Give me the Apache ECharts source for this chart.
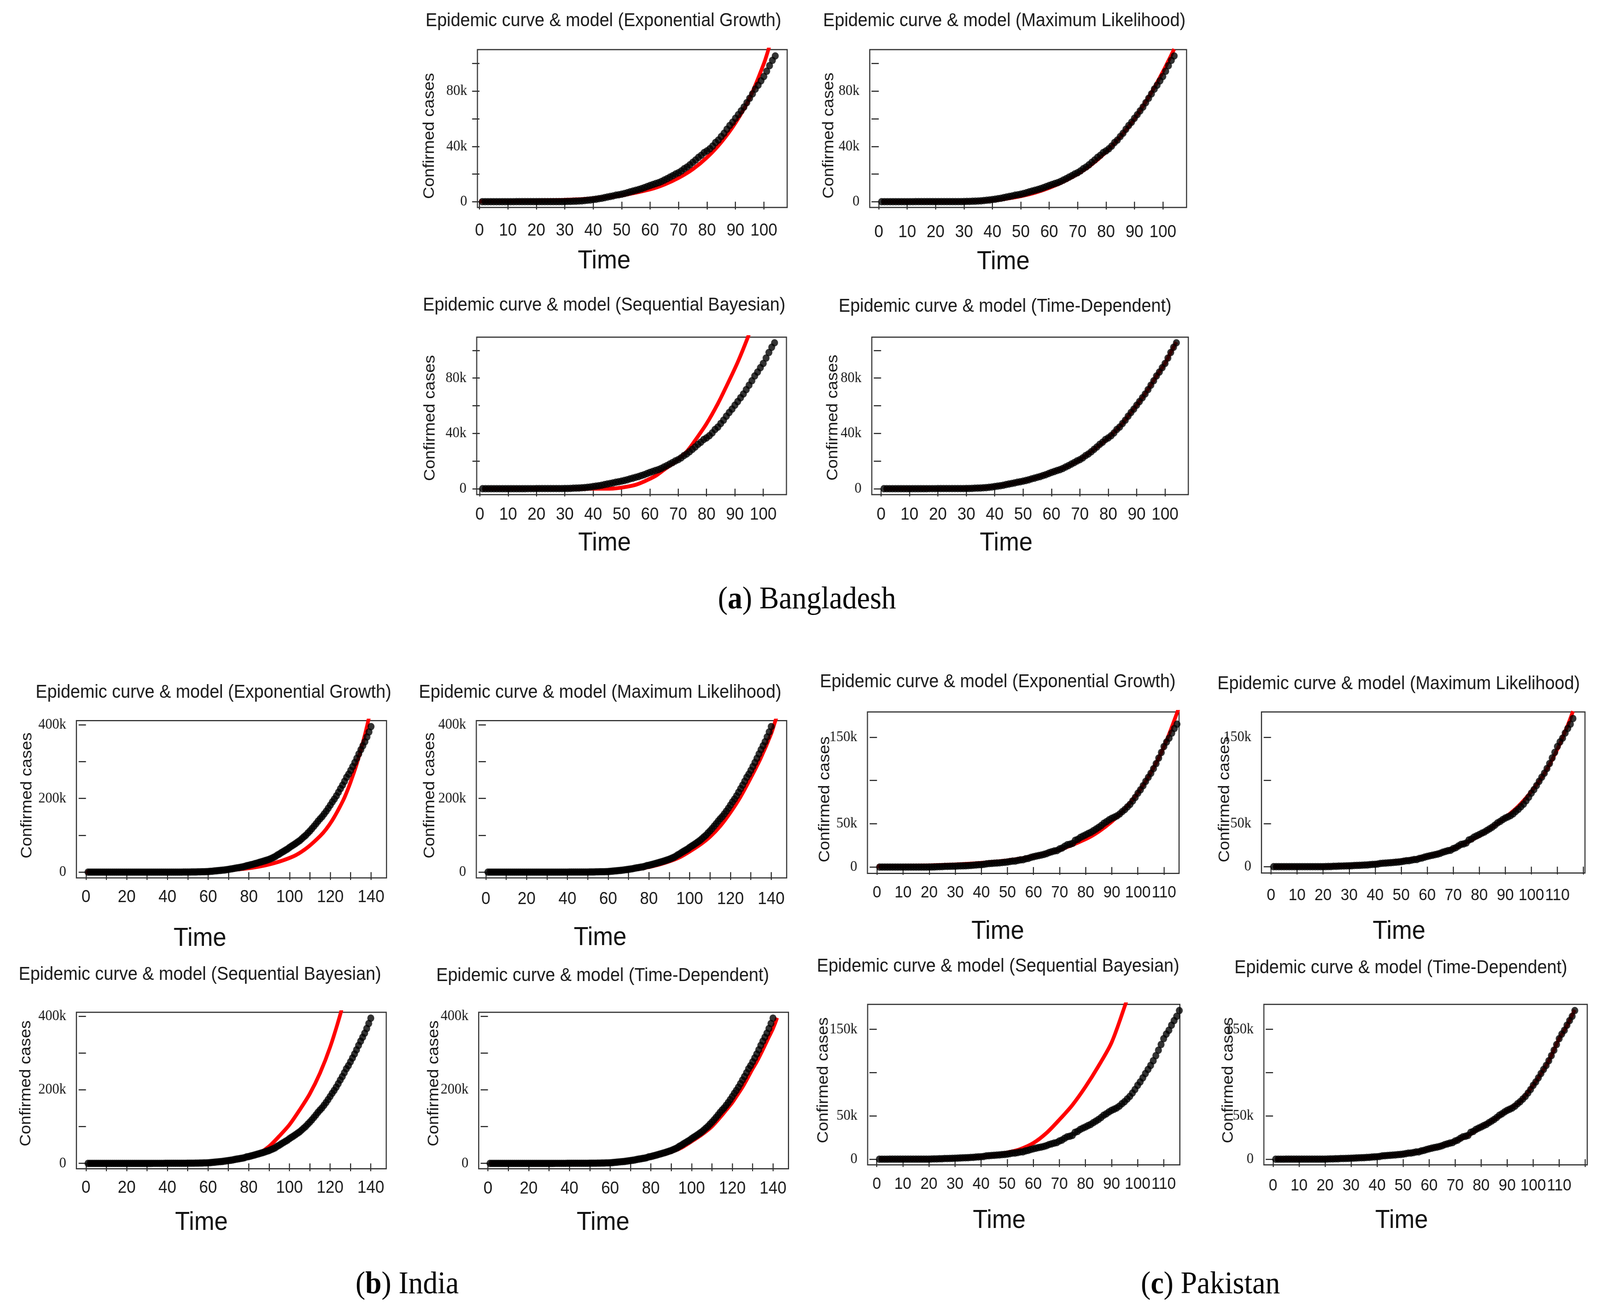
<!DOCTYPE html>
<html>
<head>
<meta charset="utf-8">
<script src="https://cdn.jsdelivr.net/npm/echarts@6/dist/echarts.min.js"></script>
<style>
html,body{margin:0;padding:0;background:#fff;overflow:hidden;}
#wrap{position:relative;overflow:hidden;background:#fff;}
#chart{position:absolute;left:0;top:0;width:4370px;height:3353px;transform-origin:0 0;}
</style>
</head>
<body>
<div id="wrap"><div id="chart"></div></div>
<script>
// ---------------- DATA ----------------
// Cumulative confirmed cases, one value per day (day 1 = first value)
const bangladeshCases = [
3,3,3,3,3,3,3,5,8,10,14,17,20,24,27,33,39,39,44,48,48,48,49,51,
54,56,61,70,88,123,164,218,330,424,482,621,803,1012,1231,1572,1838,2144,2456,2948,3382,3772,4186,4689,4998,5416,5913,6462,7103,7667,
8238,8790,9455,10143,10929,11719,12425,13134,13770,14657,15691,16660,17822,18863,20065,20995,22268,23870,25121,26738,28511,30205,32078,33610,35585,36751,38292,40321,42844,44608,47153,
49534,52445,55140,57563,60391,63026,65769,68504,71675,74865,78052,81523,84379,87520,90619,94481,98489,102292,105535
];
const indiaCases = [
1,1,
1,2,3,3,3,3,3,3,3,3,3,3,3,3,3,3,3,3,3,3,3,3,3,3,3,3,3,
3,5,6,28,30,31,34,39,48,63,71,81,91,102,112,126,146,171,198,256,334,403,497,571,657,730,883,1019,1139,1326,1635,
2059,2545,3105,3684,4289,4778,5311,5916,6725,7598,8446,9205,10453,11487,12322,13430,14352,15722,17615,18539,20080,21370,23077,24530,26283,27890,29451,31324,33062,34863,
37257,39699,42505,46437,49400,52987,56351,59695,62808,67161,70768,74292,78055,81997,85784,90648,95698,100328,106475,112028,118226,124794,131423,138536,144950,150793,158086,165386,173491,181827,190609,
198370,207191,216824,226713,236184,246622,257486,265928,276146,286579,297535,308993,320922,332424,343091,354065,366946,380532,395048
];
const pakistanCases = [
2,2,2,2,4,
4,5,5,5,5,6,6,6,7,16,19,20,28,31,53,136,236,299,454,501,730,776,875,972,1063,1201,1373,1495,1597,1717,1938,
2118,2421,2686,2818,3157,3766,4035,4263,4489,4695,4892,5230,5496,5837,6383,6919,7025,7638,8348,8418,9565,10076,11155,11940,12657,13328,13915,14612,15525,16817,
17699,18570,19103,20941,22049,24073,25837,26435,27474,30941,32081,34336,35788,37218,38799,40151,42125,43966,45898,48091,50694,52437,54601,56349,57705,59151,61227,64028,66457,69496,72460,
76398,80463,85264,89249,93983,98943,103671,108317,113702,119536,125933,132405,139230,144478,148921,154760,160118,165062,171666
];

// Model curves [day, cases]
const bdExpModel = [[0,200],[10,360],[20,670],[30,1250],[40,2300],[50,4600],[60,8900],[65,12400],[70,17200],[75,23500],[80,32000],[85,43000],[90,57000],[95,75000],[100,100000],[102,113000]];
const bdMlModel  = [[1,0],[20,10],[30,100],[35,400],[40,1000],[45,2200],[50,4000],[55,6500],[60,10000],[65,14500],[70,20000],[75,27000],[80,36000],[85,47000],[90,60000],[95,75500],[100,94000],[104,110500]];
const bdSbModel  = [[1,0],[40,0],[47,100],[51,1100],[55,2800],[58,5200],[62,9200],[65,13700],[69,19600],[73,26800],[76,35000],[80,47000],[84,61500],[87,74000],[91,91500],[94.6,109600],[96,118000]];
const bdTdModel  = [[1,0],[20,20],[25,54],[30,123],[35,482],[40,1572],[45,3382],[50,5416],[55,8238],[60,11719],[65,15691],[70,20995],[75,28511],[80,36751],[85,47153],[87,52445],[90,60391],[92,65769],[95,74865],[97,81523],[100,90619],[102,98489],[104,106000]];

const inExpModel = [[0,60],[20,220],[40,800],[50,1400],[60,2700],[66,4100],[70,5400],[79,10000],[85,15000],[91,22500],[97,32500],[103,46000],[109,68000],[115,98000],[118,117000],[121,141000],[124,170000],[127,203000],[130,245000],[133,294000],[136,352000],[139,420000],[141,480000]];
const inMlModel  = [[1,0],[40,200],[50,600],[60,1800],[65,3300],[70,5500],[75,9000],[80,14000],[85,20500],[90,29000],[95,40000],[100,56000],[105,74000],[110,96000],[115,125000],[120,162000],[125,205000],[130,256000],[135,311000],[140,376000],[142,410000],[143,428000]];
const inSbModel  = [[1,0],[40,50],[60,1200],[70,5000],[80,16000],[85,27000],[90,46000],[95,74000],[100,105000],[105,145000],[110,189000],[115,245000],[120,316000],[125,405000],[127,450000]];
const inTdModel  = [[1,1],[40,48],[50,198],[55,571],[60,1139],[65,3105],[70,5916],[75,10453],[80,15722],[85,23077],[90,31324],[95,42505],[100,59695],[105,78055],[110,100328],[115,131423],[117,144950],[120,165386],[122,181827],[125,207191],[127,226713],[130,257486],[132,276146],[135,308993],[137,332424],[140,366946],[141,380532],[142,396000]];

const pkExpModel = [[0,700],[10,1100],[20,1800],[30,2900],[40,4700],[50,7600],[60,12300],[70,20000],[80,32300],[85,41000],[90,52500],[95,67000],[100,85500],[105,109000],[110,139000],[115,178000],[117,197000]];
const pkMlModel  = [[1,0],[20,300],[30,1500],[40,3500],[50,7000],[60,12000],[70,21000],[75,28000],[80,36000],[85,46000],[90,57000],[95,70000],[100,87000],[105,108000],[110,136000],[114,164000],[116,180000]];
const pkSbModel  = [[1,0],[20,100],[30,700],[40,2800],[45,4500],[50,7500],[55,11500],[60,18500],[65,30000],[70,45500],[75,62500],[80,83500],[85,107500],[90,134500],[95,176000],[97,195000]];
const pkTdModel  = [[1,2],[15,16],[20,53],[25,501],[30,1063],[35,1717],[40,2818],[45,4489],[50,5837],[55,8348],[60,11940],[65,15525],[70,20941],[75,27474],[80,37218],[85,45898],[90,56349],[95,66457],[100,85264],[102,93983],[105,108317],[107,119536],[110,139230],[112,148921],[114,160118],[116,172500]];

// Tick values and labels
const bdXTicks = [0,10,20,30,40,50,60,70,80,90,100];
const bdXLabels = [0,10,20,30,40,50,60,70,80,90,100];
const bdYTicks = [0,20000,40000,60000,80000,100000];
const bdYLabels = [0,40000,80000];
const inXTicks = [0,10,20,30,40,50,60,70,80,90,100,110,120,130,140];
const inXLabels = [0,20,40,60,80,100,120,140];
const inYTicks = [0,100000,200000,300000,400000];
const inYLabels = [0,200000,400000];
const pkXTicks = [0,10,20,30,40,50,60,70,80,90,100,110,120];
const pkXLabels = [0,10,20,30,40,50,60,70,80,90,100,110];
const pkYTicks = [0,50000,100000,150000];
const pkYLabels = [0,50000,150000];

const modelNames = ['Exponential Growth','Maximum Likelihood','Sequential Bayesian','Time-Dependent'];
const captions = [['a',' Bangladesh'],['b',' India'],['c',' Pakistan']];

// ---------------- LAYOUT ----------------
const countries = {
  bd: {cases: bangladeshCases, xt: bdXTicks, xl: bdXLabels, yt: bdYTicks, yl: bdYLabels, xFont: 44},
  in: {cases: indiaCases, xt: inXTicks, xl: inXLabels, yt: inYTicks, yl: inYLabels, xFont: 44},
  pk: {cases: pakistanCases, xt: pkXTicks, xl: pkXLabels, yt: pkYTicks, yl: pkYLabels, xFont: 42}
};
const panels = [
  {c:'bd', m:0, model:bdExpModel, box:[1304,127,2150,531], xr:[-0.7,108.2], yr:[-4190,110100], tt:[1648,54], tm:[1650,669], cf:[1173,348], lg:38},
  {c:'bd', m:1, model:bdMlModel,  box:[2375.5,127,3240.7,531], xr:[-3.18,108.35], yr:[-4190,110100], tt:[2743,54], tm:[2740,671], cf:[2264,347], lg:42},
  {c:'bd', m:2, model:bdSbModel,  box:[1302,863,2148,1266], xr:[-1.08,108.2], yr:[-4300,109600], tt:[1650,782], tm:[1651,1391], cf:[1175,1070], lg:30},
  {c:'bd', m:3, model:bdTdModel,  box:[2381,863,3245.6,1266], xr:[-3.29,108.2], yr:[-4300,109600], tt:[2745,785], tm:[2748,1391], cf:[2275,1069], lg:30},
  {c:'in', m:0, model:inExpModel, box:[208.7,1844.6,1055.6,2247.1], xr:[-4.69,147.6], yr:[-15700,411200], tt:[583,1773], tm:[546,2403], cf:[74,2036], lg:28},
  {c:'in', m:1, model:inMlModel,  box:[1301,1844.6,2148.6,2247], xr:[-4.67,147.6], yr:[-15700,411200], tt:[1639,1773], tm:[1639,2401], cf:[1174,2036], lg:33},
  {c:'in', m:2, model:inSbModel,  box:[208.7,2591,1054.9,2991.5], xr:[-4.69,147.6], yr:[-14700,411000], tt:[546,2495], tm:[550,3130], cf:[71,2773], lg:27},
  {c:'in', m:3, model:inTdModel,  box:[1307.4,2591,2153.5,2991.5], xr:[-4.55,147.6], yr:[-14700,411000], tt:[1646,2498], tm:[1647,3130], cf:[1185,2773], lg:29},
  {c:'pk', m:0, model:pkExpModel, box:[2369.2,1822.3,3220.3,2235.4], xr:[-3.66,115.8], yr:[-7300,179200], tt:[2725,1746], tm:[2725,2385], cf:[2253,2046], lg:29},
  {c:'pk', m:1, model:pkMlModel,  box:[3445.4,1822.3,4328.9,2234.5], xr:[-3.67,120.6], yr:[-7300,179200], tt:[3820,1751], tm:[3821,2385], cf:[3345,2046], lg:37},
  {c:'pk', m:2, model:pkSbModel,  box:[2369.7,2570.8,3222.4,2981.5], xr:[-3.5,116.2], yr:[-6600,178800], tt:[2726,2474], tm:[2729,3125], cf:[2249,2765], lg:29},
  {c:'pk', m:3, model:pkTdModel,  box:[3451.9,2570.8,4335.2,2981.5], xr:[-3.53,120.8], yr:[-6600,178800], tt:[3826,2478], tm:[3828,3125], cf:[3355,2765], lg:33}
];

const INK = '#1a1a1a';
const grids = [], xAxes = [], yAxes = [], series = [], graphics = [];
const kfmt = v => v === 0 ? '0' : (v / 1000) + 'k';

panels.forEach((p, i) => {
  const C = countries[p.c];
  const [L, T, R, B] = p.box;
  grids.push({left: L, top: T, width: R - L, height: B - T, show: true, borderColor: '#333', borderWidth: 3, backgroundColor: 'rgba(0,0,0,0)'});
  const inX = v => v >= p.xr[0] && v <= p.xr[1];
  xAxes.push({
    gridIndex: i, type: 'value', min: p.xr[0], max: p.xr[1],
    axisLine: {show: false},
    axisTick: {show: true, length: 20, lineStyle: {color: '#333', width: 3}, customValues: C.xt.filter(inX)},
    axisLabel: {customValues: C.xl.filter(inX), margin: p.lg, fontSize: C.xFont, fontFamily: 'Liberation Sans', color: INK},
    splitLine: {show: false}
  });
  yAxes.push({
    gridIndex: i, type: 'value', min: p.yr[0], max: p.yr[1],
    axisLine: {show: false},
    axisTick: {show: true, length: 20, lineStyle: {color: '#333', width: 3}, customValues: C.yt},
    axisLabel: {customValues: C.yl, formatter: kfmt, margin: 28, fontSize: 38, fontFamily: 'Liberation Serif', color: INK},
    splitLine: {show: false}
  });
  series.push({
    type: 'line', xAxisIndex: i, yAxisIndex: i, data: p.model, smooth: 0.3,
    showSymbol: false, symbol: 'none', clip: true,
    lineStyle: {color: '#ff0000', width: 10}, z: 2, silent: true
  });
  series.push({
    type: 'scatter', xAxisIndex: i, yAxisIndex: i, data: C.cases.map((v, d) => [d + 1, v]),
    symbol: 'circle', symbolSize: 19, itemStyle: {color: '#000'}, clip: true, z: 3, silent: true
  });
  graphics.push({type: 'text', x: p.tt[0], y: p.tt[1], style: {text: 'Epidemic curve & model (' + modelNames[p.m] + ')', fontSize: 47.5, fontFamily: 'Liberation Sans', fill: INK, align: 'center', verticalAlign: 'middle', textAlign: 'center', textVerticalAlign: 'middle'}});
  graphics.push({type: 'text', x: p.tm[0], y: p.tm[1], style: {text: 'Time', fontSize: 66, fontFamily: 'Liberation Sans', fill: '#111', align: 'center', verticalAlign: 'middle', textAlign: 'center', textVerticalAlign: 'middle'}});
  graphics.push({type: 'text', x: p.cf[0], y: p.cf[1], rotation: Math.PI / 2, style: {text: 'Confirmed cases', fontSize: 43, fontFamily: 'Liberation Sans', fill: INK, align: 'center', verticalAlign: 'middle', textAlign: 'center', textVerticalAlign: 'middle'}});
});

const capPos = [[2204,1536],[1112,3289],[3306,3289]];
captions.forEach((c, k) => {
  graphics.push({type: 'text', x: capPos[k][0], y: capPos[k][1], style: {
    text: '{n|(}{b|' + c[0] + '}{n|)' + c[1] + '}',
    rich: {n: {fontSize: 80, fontFamily: 'Liberation Serif', fill: '#000', color: '#000'}, b: {fontSize: 80, fontFamily: 'Liberation Serif', fontWeight: 'bold', fill: '#000', color: '#000'}},
    align: 'center', verticalAlign: 'middle', textAlign: 'center', textVerticalAlign: 'middle'}});
});

// map the 4370x3353 drawing onto the whole viewport, keeping the document exactly viewport-sized
const wrap = document.getElementById('wrap');
const el = document.getElementById('chart');
const vw = window.innerWidth || document.documentElement.clientWidth || 4370;
const vh = window.innerHeight || document.documentElement.clientHeight || 3353;
const sx = vw / 4370, sy = vh / 3353;
wrap.style.width = vw + 'px';
wrap.style.height = vh + 'px';
el.style.transform = 'scale(' + sx + ',' + sy + ')';
const dpr = (window.devicePixelRatio || 1) * Math.max(sx, sy);

const chart = echarts.init(el, null, {renderer: 'canvas', devicePixelRatio: Math.max(1, dpr)});
chart.setOption({
  backgroundColor: '#ffffff',
  animation: false,
  grid: grids,
  xAxis: xAxes,
  yAxis: yAxes,
  series: series,
  graphic: graphics
});
</script>
</body>
</html>
